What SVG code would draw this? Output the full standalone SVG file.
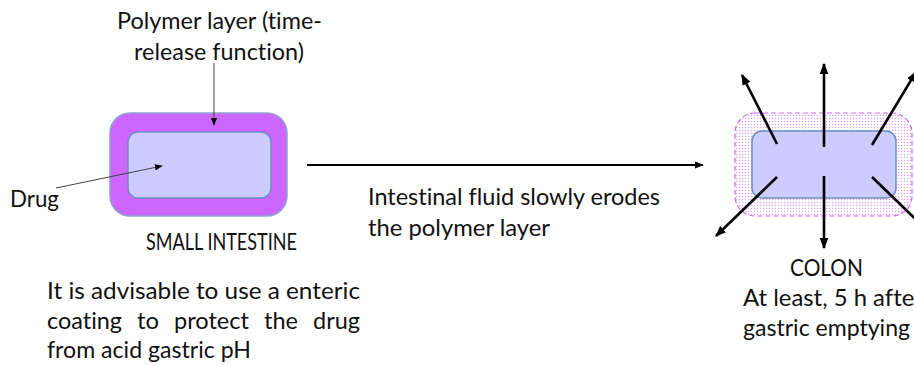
<svg xmlns="http://www.w3.org/2000/svg" width="914" height="365" viewBox="0 0 914 365">
  <style>
    text { font-family: Lato, "Open Sans", "Liberation Sans", sans-serif; font-size: 23.5px; fill: #111; font-variant-ligatures: none; }
    .outer { fill: #CC66FF; stroke: #8FA3CC; stroke-width: 1.5; }
    .inner { fill: #CCCCFF; stroke: #6C8EBF; stroke-width: 1.5; }
    .halo { fill: url(#dots); stroke: #CC66FF; stroke-width: 1.2; stroke-dasharray: 5 3; }
    .thin { stroke: #444; stroke-width: 1; fill: none; }
    .main { stroke: #000; stroke-width: 2; fill: none; }
    .ray { stroke: #000; stroke-width: 2.6; fill: none; }
  </style>
  <defs>
    <marker id="headSmall" viewBox="0 0 10 10" refX="9" refY="5" markerWidth="8" markerHeight="8" orient="auto" markerUnits="userSpaceOnUse">
      <path d="M0,1 L10,5 L0,9 Z" fill="#000"/>
    </marker>
    <marker id="headMain" viewBox="0 0 10 10" refX="9" refY="5" markerWidth="9" markerHeight="9" orient="auto" markerUnits="userSpaceOnUse">
      <path d="M0,1 L10,5 L0,9 Z" fill="#000"/>
    </marker>
    <marker id="headRay" viewBox="0 0 10 10" refX="9" refY="5" markerWidth="11" markerHeight="11" orient="auto" markerUnits="userSpaceOnUse">
      <path d="M0,1 L10,5 L0,9 Z" fill="#000"/>
    </marker>
    <pattern id="dots" width="3" height="3" patternUnits="userSpaceOnUse">
      <rect width="3" height="3" fill="#FFFFFF"/>
      <circle cx="1.5" cy="1.5" r="0.75" fill="#DDA0F5"/>
    </pattern>
  </defs>

  <!-- small intestine capsule -->
  <g id="capsule">
    <rect class="outer" x="110" y="113" width="177" height="103" rx="20"/>
    <rect class="inner" x="128" y="132" width="143" height="66" rx="10"/>
  </g>

  <!-- colon capsule with eroded coating -->
  <g id="colon-capsule">
    <rect class="halo" x="735" y="113" width="177" height="103" rx="20"/>
    <rect class="inner" x="752" y="131" width="144" height="67" rx="10"/>
  </g>

  <g id="connectors">
    <line class="thin" x1="214" y1="63" x2="214" y2="125" marker-end="url(#headSmall)"/>
    <line class="thin" x1="56" y1="188" x2="162" y2="166" marker-end="url(#headSmall)"/>
    <line class="main" x1="307" y1="165" x2="703" y2="165" marker-end="url(#headMain)"/>
    <!-- drug release rays -->
    <line class="ray" x1="824" y1="147" x2="824" y2="64" marker-end="url(#headRay)"/>
    <line class="ray" x1="824" y1="176" x2="824" y2="248" marker-end="url(#headRay)"/>
    <line class="ray" x1="777" y1="144" x2="742" y2="75" marker-end="url(#headRay)"/>
    <line class="ray" x1="777" y1="177" x2="716" y2="236" marker-end="url(#headRay)"/>
    <line class="ray" x1="872" y1="145" x2="916" y2="72" marker-end="url(#headRay)"/>
    <line class="ray" x1="872" y1="177" x2="932" y2="235" marker-end="url(#headRay)"/>
  </g>

  <g id="labels">
    <text x="117" y="29" textLength="205" lengthAdjust="spacingAndGlyphs">Polymer layer (time-</text>
    <text x="134" y="60" textLength="170" lengthAdjust="spacingAndGlyphs">release function)</text>
    <text x="10" y="207" textLength="49" lengthAdjust="spacingAndGlyphs">Drug</text>
    <text x="146" y="250" textLength="151" lengthAdjust="spacingAndGlyphs">SMALL INTESTINE</text>
    <text x="368" y="205" textLength="292" lengthAdjust="spacingAndGlyphs">Intestinal fluid slowly erodes</text>
    <text x="368" y="236" textLength="182" lengthAdjust="spacingAndGlyphs">the polymer layer</text>
    <text x="47" y="299" textLength="313" lengthAdjust="spacingAndGlyphs">It is advisable to use a enteric</text>
    <!-- justified line: words placed one by one -->
    <text y="329"><tspan x="47" textLength="75" lengthAdjust="spacingAndGlyphs">coating</tspan><tspan x="137" textLength="22" lengthAdjust="spacingAndGlyphs">to</tspan><tspan x="174" textLength="75" lengthAdjust="spacingAndGlyphs">protect</tspan><tspan x="264" textLength="34" lengthAdjust="spacingAndGlyphs">the</tspan><tspan x="313" textLength="47" lengthAdjust="spacingAndGlyphs">drug</tspan></text>
    <text x="47" y="358" textLength="204" lengthAdjust="spacingAndGlyphs">from acid gastric pH</text>
    <text x="790" y="276" textLength="73" lengthAdjust="spacingAndGlyphs">COLON</text>
    <text x="743" y="306" textLength="180" lengthAdjust="spacingAndGlyphs">At least, 5 h after</text>
    <text x="743" y="336" textLength="167" lengthAdjust="spacingAndGlyphs">gastric emptying</text>
  </g>
</svg>
